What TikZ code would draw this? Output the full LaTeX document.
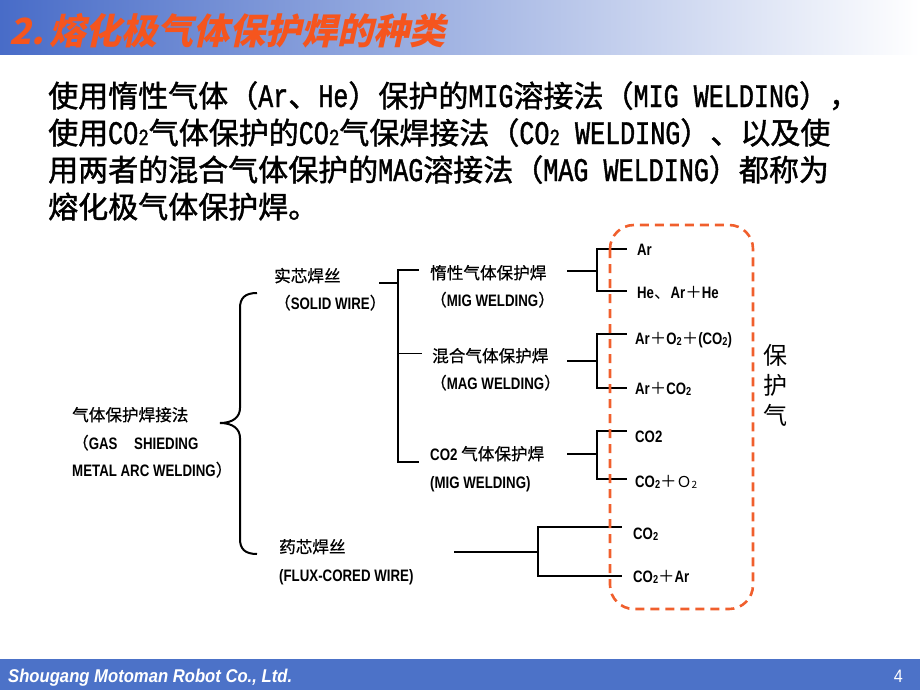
\documentclass[tikz,border=0pt]{standalone}
\usepackage{fontspec}
\setmainfont{Noto Sans CJK SC}
\newfontfamily\cjk{Noto Sans CJK SC}
\newfontfamily\cjkpara{Noto Sans CJK SC}[FakeBold=1.4]
\newfontfamily\cjklab{Noto Sans CJK SC}[FakeBold=0.6]
\newfontfamily\hwf{Liberation Mono}[FakeStretch=0.76,FakeBold=1.2]
\newfontfamily\laben{Liberation Sans}[FakeStretch=0.8]
\newfontfamily\footf{Liberation Sans}[FakeStretch=0.9]
\newfontfamily\titlef{Noto Sans CJK SC}[FakeSlant=0.22]
\definecolor{titleorange}{RGB}{245,85,30}
\definecolor{dashorange}{RGB}{240,95,45}
\definecolor{barblue}{RGB}{72,108,200}
\definecolor{barmid}{RGB}{170,188,238}
\definecolor{footblue}{RGB}{76,114,200}
\newcommand\Hw[1]{{\hwf\fontsize{33}{33}\selectfont #1}}
\newcommand\ptwo{\raisebox{-1pt}{\hwf\fontsize{23}{23}\selectfont 2}}
\newcommand\E[1]{{\laben\bfseries #1}}
\newcommand\stwo{\raisebox{-1.5pt}{\laben\bfseries\fontsize{11.5}{11.5}\selectfont 2}}
\newcommand\pl{{\cjk\mdseries ＋}}
\begin{document}
\begin{tikzpicture}[x=1pt,y=-1pt,
  para/.style={anchor=base west, inner sep=0pt, font=\cjkpara\fontsize{30}{30}\selectfont},
  lab/.style={anchor=base west, inner sep=0pt, font=\cjklab\fontsize{16.6}{16.6}\selectfont},
  gas/.style={anchor=base west, inner sep=0pt, font=\laben\bfseries\fontsize{16.5}{16.5}\selectfont},
  tree/.style={line width=2.2pt, black, line cap=rect},
  thin tree/.style={line width=1pt, black},
]
\useasboundingbox (0,0) rectangle (920,690);
% title bar
\shade[left color=barblue, middle color=barmid, right color=white] (0,0) rectangle (920,55);
\node[anchor=base west, inner sep=0pt, text=titleorange, font=\titlef\bfseries\fontsize{36}{36}\selectfont] (title) at (9,45) {2.\,熔化极气体保护焊的种类};
% paragraph
\node[para] (l1) at (48,107) {使用惰性气体（\Hw{Ar}、\Hw{He}）保护的\Hw{MIG}溶接法（\Hw{MIG WELDING}），};
\node[para] (l2) at (48,144) {使用\Hw{CO}\ptwo 气体保护的\Hw{CO}\ptwo 气保焊接法（\Hw{CO}\ptwo\Hw{\ WELDING}）、以及使};
\node[para] (l3) at (48,181) {用两者的混合气体保护的\Hw{MAG}溶接法（\Hw{MAG WELDING}）都称为};
\node[para] (l4) at (48,218) {熔化极气体保护焊。};
% root
\node[lab] (r1) at (72,421) {气体保护焊接法};
\node[lab] (r2) at (72,449) {（\E{GAS}　\E{SHIEDING}};
\node[lab] (r3) at (72,476) {\E{METAL ARC WELDING}）};
% brace
\draw[line width=2pt] (257,293) .. controls (245,293) and (240,298) .. (240,308) -- (240,408)
  .. controls (240,417) and (233,423) .. (220,423)
  .. controls (233,423) and (240,429) .. (240,438) -- (240,539)
  .. controls (240,549) and (245,554) .. (257,554);
% solid / flux wire
\node[lab] (s1) at (274,282) {实芯焊丝};
\node[lab] (s2) at (274,309) {（\E{SOLID WIRE}）};
\node[lab] (f1) at (279,553) {药芯焊丝};
\node[lab] (f2) at (279,581) {\E{(FLUX-CORED WIRE)}};
% second level
\node[lab] (m1) at (430,279) {惰性气体保护焊};
\node[lab] (m2) at (430,306) {（\E{MIG WELDING}）};
\node[lab] (g1) at (432,362) {混合气体保护焊};
\node[lab] (g2) at (430,389) {（\E{MAG WELDING}）};
\node[lab] (c1) at (430,460) {\E{CO2} 气体保护焊};
\node[lab] (c2) at (430,488) {\E{(MIG WELDING)}};
% gases
\node[gas] (a1) at (637,255) {Ar};
\node[gas] (a2) at (637,298) {He{\cjk\mdseries 、}Ar\pl He};
\node[gas] (b1) at (635,344) {Ar\pl O\stwo\pl(CO\stwo)};
\node[gas] (b2) at (635,394) {Ar\pl CO\stwo};
\node[gas] (d1) at (635,442) {CO2};
\node[gas] (d2) at (635,487) {CO\stwo\pl{\cjk\mdseries\fontsize{15}{15}\selectfont Ｏ}\raisebox{-1pt}{\cjk\mdseries\fontsize{10}{10}\selectfont 2}};
\node[gas] (e1) at (633,539) {CO\stwo};
\node[gas] (e2) at (633,582) {CO\stwo\pl Ar};
% tree junction coordinates
\coordinate (sa) at (380,283); \coordinate (sj) at (398,283);
\coordinate (st) at (398,270); \coordinate (sb) at (398,462); \coordinate (sm) at (398,353);
\coordinate (ste) at (418,270); \coordinate (sbe) at (418,462); \coordinate (sme) at (422,353);
\draw[tree] (sa) -- (sj);
\draw[tree] (ste) -- (st) -- (sb) -- (sbe);
\draw[thin tree] (sm) -- (sme);
% MIG gases
\coordinate (ma) at (568,271); \coordinate (mj) at (597,271);
\coordinate (mt) at (597,249); \coordinate (mb) at (597,291);
\coordinate (mte) at (626,249); \coordinate (mbe) at (626,291);
\draw[tree] (ma) -- (mj);
\draw[tree] (mte) -- (mt) -- (mb) -- (mbe);
% MAG gases
\coordinate (ga) at (568,361); \coordinate (gj) at (597,361);
\coordinate (gt) at (597,334); \coordinate (gb) at (597,388);
\coordinate (gte) at (626,334); \coordinate (gbe) at (626,388);
\draw[tree] (ga) -- (gj);
\draw[tree] (gte) -- (gt) -- (gb) -- (gbe);
% CO2 gases
\coordinate (ca) at (568,454); \coordinate (cj) at (597,454);
\coordinate (ct) at (597,431); \coordinate (cb) at (597,479);
\coordinate (cte) at (626,431); \coordinate (cbe) at (626,479);
\draw[tree] (ca) -- (cj);
\draw[tree] (cte) -- (ct) -- (cb) -- (cbe);
% flux gases
\coordinate (fa) at (455,552); \coordinate (fj) at (538,552);
\coordinate (ft) at (538,527); \coordinate (fb) at (538,576);
\coordinate (fte) at (621,527); \coordinate (fbe) at (621,576);
\draw[tree] (fa) -- (fj);
\draw[tree] (fte) -- (ft) -- (fb) -- (fbe);
% dashed box
\draw[dashorange, line width=2.6pt, dash pattern=on 9pt off 6pt, rounded corners=24pt] (610,225) rectangle (753,609);
\node[inner sep=0pt, font=\cjk\fontsize{24}{24}\selectfont, align=center] (prot) at (775,385) {保\\[6pt]护\\[6pt]气};
% footer
\fill[footblue] (0,659) rectangle (920,690);
\node[anchor=base west, inner sep=0pt, text=white, font=\footf\bfseries\itshape\fontsize{18.5}{18.5}\selectfont] (foot) at (8,682) {Shougang Motoman Robot Co., Ltd.};
\node[anchor=base east, inner sep=0pt, text=white, font=\footf\fontsize{18}{18}\selectfont] (page) at (903,682) {4};
\end{tikzpicture}
\end{document}
